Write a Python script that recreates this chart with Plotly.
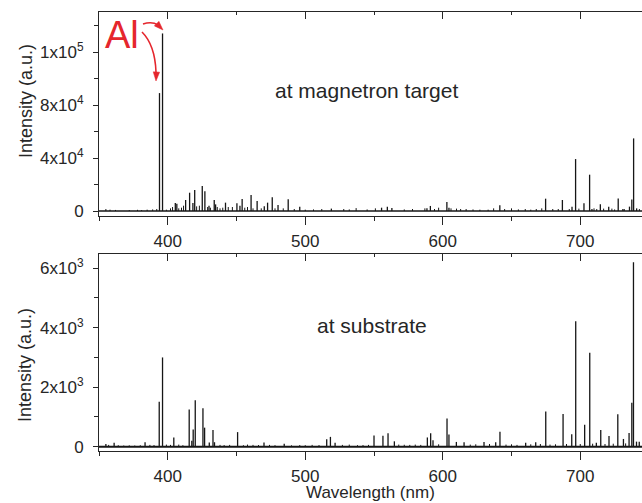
import plotly.graph_objects as go
import numpy as np

# ---------------- data ----------------
# Emission lines at the magnetron target: wavelength (nm), intensity (a.u.)
target_wl = [394.0, 396.2, 405.5, 406.6, 413.0, 415.9, 418.3, 419.6, 425.1, 427.0,
             430.0, 433.8, 434.8, 442.0, 450.3, 452.5, 454.1, 460.6, 465.0, 470.2,
             472.6, 476.0, 480.2, 487.6, 496.0, 519.0, 555.5, 559.7, 563.0, 588.5,
             591.0, 603.0, 604.5, 641.5, 674.8, 687.0, 694.0, 696.6, 702.7, 706.8,
             708.5, 714.6, 720.7, 727.6, 731.0, 735.8, 737.5, 738.8, 741.0]
target_int = [89000, 134000, 6000, 5500, 8300, 13800, 6000, 15800, 18900, 14900,
              4000, 8300, 5000, 6300, 5800, 4000, 9000, 12000, 7500, 3500,
              6300, 10300, 4500, 8800, 3300, 1800, 2500, 3300, 2200, 2000,
              3800, 6800, 2500, 4300, 9300, 8300, 3300, 39200, 5800, 27400,
              1500, 5000, 3300, 9500, 1500, 3300, 8700, 54800, 2000]
# weak baseline lines (target)
target_weak_wl = [355, 358, 362, 372, 378, 381, 385, 389, 392, 399, 402, 403.5, 408, 410,
                  411.5, 421, 423, 429, 431, 436, 438, 440, 444, 447, 456, 458, 462, 468,
                  478, 484, 492, 500, 506, 512, 528, 532, 537, 545, 551, 572, 578, 587,
                  594, 597, 606, 610, 613, 617, 622, 627, 633, 637, 645, 650, 655, 660,
                  664, 668, 672, 680, 684, 692, 699, 710, 712, 717, 723, 725, 732, 743]
target_weak_int = [1500, 1000, 800, 700, 900, 700, 1000, 1200, 1500, 1000, 2000, 3000, 2000, 2500,
                   4000, 3500, 4000, 3000, 2500, 3000, 2000, 2500, 3000, 3000, 2500, 3000, 2000, 2000,
                   2000, 2000, 1500, 1000, 1200, 1500, 1500, 1200, 2200, 1200, 2000, 1200, 1500, 2000,
                   1500, 2500, 2000, 1800, 1500, 1500, 1200, 1000, 1000, 2000, 1500, 2000, 1200, 1500,
                   1000, 1500, 2000, 1500, 1500, 1500, 1800, 2000, 1500, 1800, 1800, 1200, 1500, 1500]

# Emission lines at the substrate
sub_wl = [355.0, 361.0, 383.5, 393.8, 396.2, 404.4, 415.6, 417.5, 418.5, 420.0,
          425.6, 426.8, 430.2, 432.9, 434.0, 450.8, 470.0, 484.7, 515.6, 518.3,
          521.7, 550.0, 556.5, 560.2, 564.8, 588.8, 591.2, 592.9, 603.1, 604.5,
          609.9, 615.5, 630.0, 638.5, 641.6, 660.3, 667.6, 674.9, 687.5, 693.8,
          696.7, 703.2, 706.9, 711.7, 714.9, 720.9, 727.3, 731.4, 735.5, 737.5,
          738.7, 740.9, 742.9]
sub_int = [90, 130, 150, 1510, 3000, 310, 1250, 200, 580, 1560,
           1290, 640, 140, 560, 150, 490, 140, 100, 250, 330,
           130, 380, 370, 450, 180, 310, 450, 220, 950, 410,
           160, 150, 160, 150, 500, 130, 150, 1180, 1100, 420,
           4220, 740, 3160, 130, 560, 360, 1090, 260, 460, 1480,
           6200, 170, 170]
sub_weak_wl = [357, 364, 368, 372, 376, 380, 387, 390, 399, 402, 408, 411, 438, 441,
               445, 455, 458, 462, 466, 474, 478, 490, 496, 500, 505, 510, 527, 532,
               538, 542, 546, 568, 572, 576, 580, 584, 597, 620, 624, 634, 646, 650,
               654, 664, 671, 678, 682, 690, 700, 709, 718, 724, 733]
sub_weak_int = [60, 50, 40, 45, 40, 50, 60, 55, 70, 60, 70, 50, 60, 55,
                60, 50, 70, 60, 55, 60, 50, 45, 55, 50, 60, 55, 60, 70,
                50, 55, 60, 70, 65, 60, 70, 60, 80, 70, 80, 90, 70, 80,
                60, 80, 90, 70, 80, 90, 90, 100, 90, 100, 110]

# axis ticks
x_range = [350, 744.9]
top_tickvals = [0, 40000, 80000, 120000]
top_ticktext = ["0", "4x10<sup>4</sup>", "8x10<sup>4</sup>", "1x10<sup>5</sup>"]
top_minor = [20000, 60000, 100000, 140000]
bot_tickvals = [0, 2000, 4000, 6000]
bot_ticktext = ["0", "2x10<sup>3</sup>", "4x10<sup>3</sup>", "6x10<sup>3</sup>"]
bot_minor = [1000, 3000, 5000]

# ---------------- helpers ----------------
W, H = 642, 503
ML, MR, MT, MB = 99, 0, 12, 52
PW, PH = W - ML - MR, H - MT - MB


def px(xp):
    return (xp - ML) / PW


def py(yp):
    return (H - MB - yp) / PH


def sticks(wl, inten):
    xs, ys = [], []
    for w, h in zip(wl, inten):
        xs += [w, w, None]
        ys += [0, h, None]
    return xs, ys


LINE = "#161616"
AX = "#262626"
TXT = "#262626"
FONT = "Liberation Sans, Arial, Helvetica, sans-serif"
RED = "#e5262d"

fig = go.Figure()

# top spectrum
for wl, it, width in [(target_weak_wl, target_weak_int, 1.0), (target_wl, target_int, 1.3)]:
    xs, ys = sticks(wl, it)
    fig.add_trace(go.Scatter(x=xs, y=ys, mode="lines", line=dict(color=LINE, width=width),
                             xaxis="x", yaxis="y", showlegend=False, hoverinfo="skip"))
fig.add_trace(go.Scatter(x=x_range, y=[0, 0], mode="lines", line=dict(color=LINE, width=1.3),
                         xaxis="x", yaxis="y", showlegend=False, hoverinfo="skip"))

# bottom spectrum
for wl, it, width in [(sub_weak_wl, sub_weak_int, 1.0), (sub_wl, sub_int, 1.3)]:
    xs, ys = sticks(wl, it)
    fig.add_trace(go.Scatter(x=xs, y=ys, mode="lines", line=dict(color=LINE, width=width),
                             xaxis="x2", yaxis="y2", showlegend=False, hoverinfo="skip"))
fig.add_trace(go.Scatter(x=x_range, y=[0, 0], mode="lines", line=dict(color=LINE, width=2),
                         xaxis="x2", yaxis="y2", showlegend=False, hoverinfo="skip"))

# dummy traces so the top-frame overlay axes are drawn
fig.add_trace(go.Scatter(x=x_range, y=[0, 0], mode="lines", line=dict(color="rgba(0,0,0,0)"),
                         xaxis="x3", yaxis="y", showlegend=False, hoverinfo="skip"))
fig.add_trace(go.Scatter(x=x_range, y=[0, 0], mode="lines", line=dict(color="rgba(0,0,0,0)"),
                         xaxis="x4", yaxis="y2", showlegend=False, hoverinfo="skip"))

top_dom = [py(216), 1.0]
bot_dom = [0.0, py(254)]

xcommon = dict(range=x_range, showgrid=False, zeroline=False, showline=True, linecolor=AX,
               linewidth=1, tick0=0, dtick=100, ticks="outside", ticklen=8, tickwidth=1,
               tickcolor=AX, minor=dict(dtick=50, ticks="outside", ticklen=4, tickcolor=AX, tickwidth=1),
               tickfont=dict(family=FONT, size=17, color=TXT), ticklabelstandoff=2,
               automargin=False)
xtop = dict(range=x_range, showgrid=False, zeroline=False, showline=True, linecolor=AX,
            linewidth=1, tick0=0, dtick=100, ticks="inside", ticklen=7, tickwidth=1, tickcolor=AX,
            minor=dict(dtick=50, ticks="inside", ticklen=3, tickcolor=AX, tickwidth=1),
            showticklabels=False, side="top", automargin=False)

ycommon = dict(showgrid=False, zeroline=False, showline=True, linecolor=AX, linewidth=1,
               ticks="outside", ticklen=5, tickwidth=1, tickcolor=AX,
               tickfont=dict(family=FONT, size=17, color=TXT), ticklabelstandoff=6,
               automargin=False)

fig.update_layout(
    template="none",
    width=W, height=H,
    margin=dict(l=ML, r=MR, t=MT, b=MB, autoexpand=False),
    paper_bgcolor="white", plot_bgcolor="white",
    xaxis=dict(**xcommon, domain=[0, 1], anchor="y"),
    xaxis2=dict(**xcommon, domain=[0, 1], anchor="y2"),
    xaxis3=dict(**xtop, overlaying="x", anchor="y"),
    xaxis4=dict(**xtop, overlaying="x2", anchor="y2"),
    yaxis=dict(**ycommon, domain=top_dom, range=[-3774, 150189], anchor="x",
               tickvals=top_tickvals, ticktext=top_ticktext,
               minor=dict(tickvals=top_minor, ticks="outside", ticklen=4, tickcolor=AX, tickwidth=1)),
    yaxis2=dict(**ycommon, domain=bot_dom, range=[-145, 6477], anchor="x2",
                tickvals=bot_tickvals, ticktext=bot_ticktext,
                minor=dict(tickvals=bot_minor, ticks="outside", ticklen=4, tickcolor=AX, tickwidth=1)),
)


def label(text, xp, yp, size, color=TXT, angle=0):
    return dict(text=text, x=px(xp), y=py(yp), xref="paper", yref="paper", showarrow=False,
                xanchor="center", yanchor="middle", textangle=angle,
                font=dict(family=FONT, size=size, color=color))


ann = [
    label("at magnetron target", 366, 90, 21),
    label("at substrate", 372, 325, 21),
    label("Intensity (a.u.)", 26, 101, 18, angle=-90),
    label("Intensity (a.u.)", 25, 365, 18, angle=-90),
    label("Wavelength (nm)", 370, 492, 17),
    label("Al", 122, 35, 38, color=RED),
]
fig.update_layout(annotations=ann)


# red curved arrows (pixel geometry converted to paper coordinates)
def qpath(p0, c, p1):
    return "M {} {} Q {} {} {} {}".format(px(p0[0]), py(p0[1]), px(c[0]), py(c[1]), px(p1[0]), py(p1[1]))


def head(tip, frm, L=9.0, w=3.2):
    t = np.array(tip, float)
    d = t - np.array(frm, float)
    d /= np.linalg.norm(d)
    n = np.array([-d[1], d[0]])
    b = t - L * d
    a1, a2 = b + w * n, b - w * n
    return "M {} {} L {} {} L {} {} Z".format(px(t[0]), py(t[1]), px(a1[0]), py(a1[1]), px(a2[0]), py(a2[1]))


shapes = [
    dict(type="path", xref="paper", yref="paper", path=qpath((143, 24), (152, 21), (158, 25)),
         line=dict(color=RED, width=1.6)),
    dict(type="path", xref="paper", yref="paper", path=head((163, 30), (156, 23)),
         fillcolor=RED, line=dict(color=RED, width=0.5)),
    dict(type="path", xref="paper", yref="paper", path=qpath((142, 32), (155, 45), (156, 72)),
         line=dict(color=RED, width=1.6)),
    dict(type="path", xref="paper", yref="paper", path=head((156, 81), (156.5, 70)),
         fillcolor=RED, line=dict(color=RED, width=0.5)),
]
fig.update_layout(shapes=shapes)

# remove the default 8px page margin so the figure sits at the window's top-left corner
fig.write_html("out.html", config={"displayModeBar": False},
               post_script="document.body.style.margin='0';")
